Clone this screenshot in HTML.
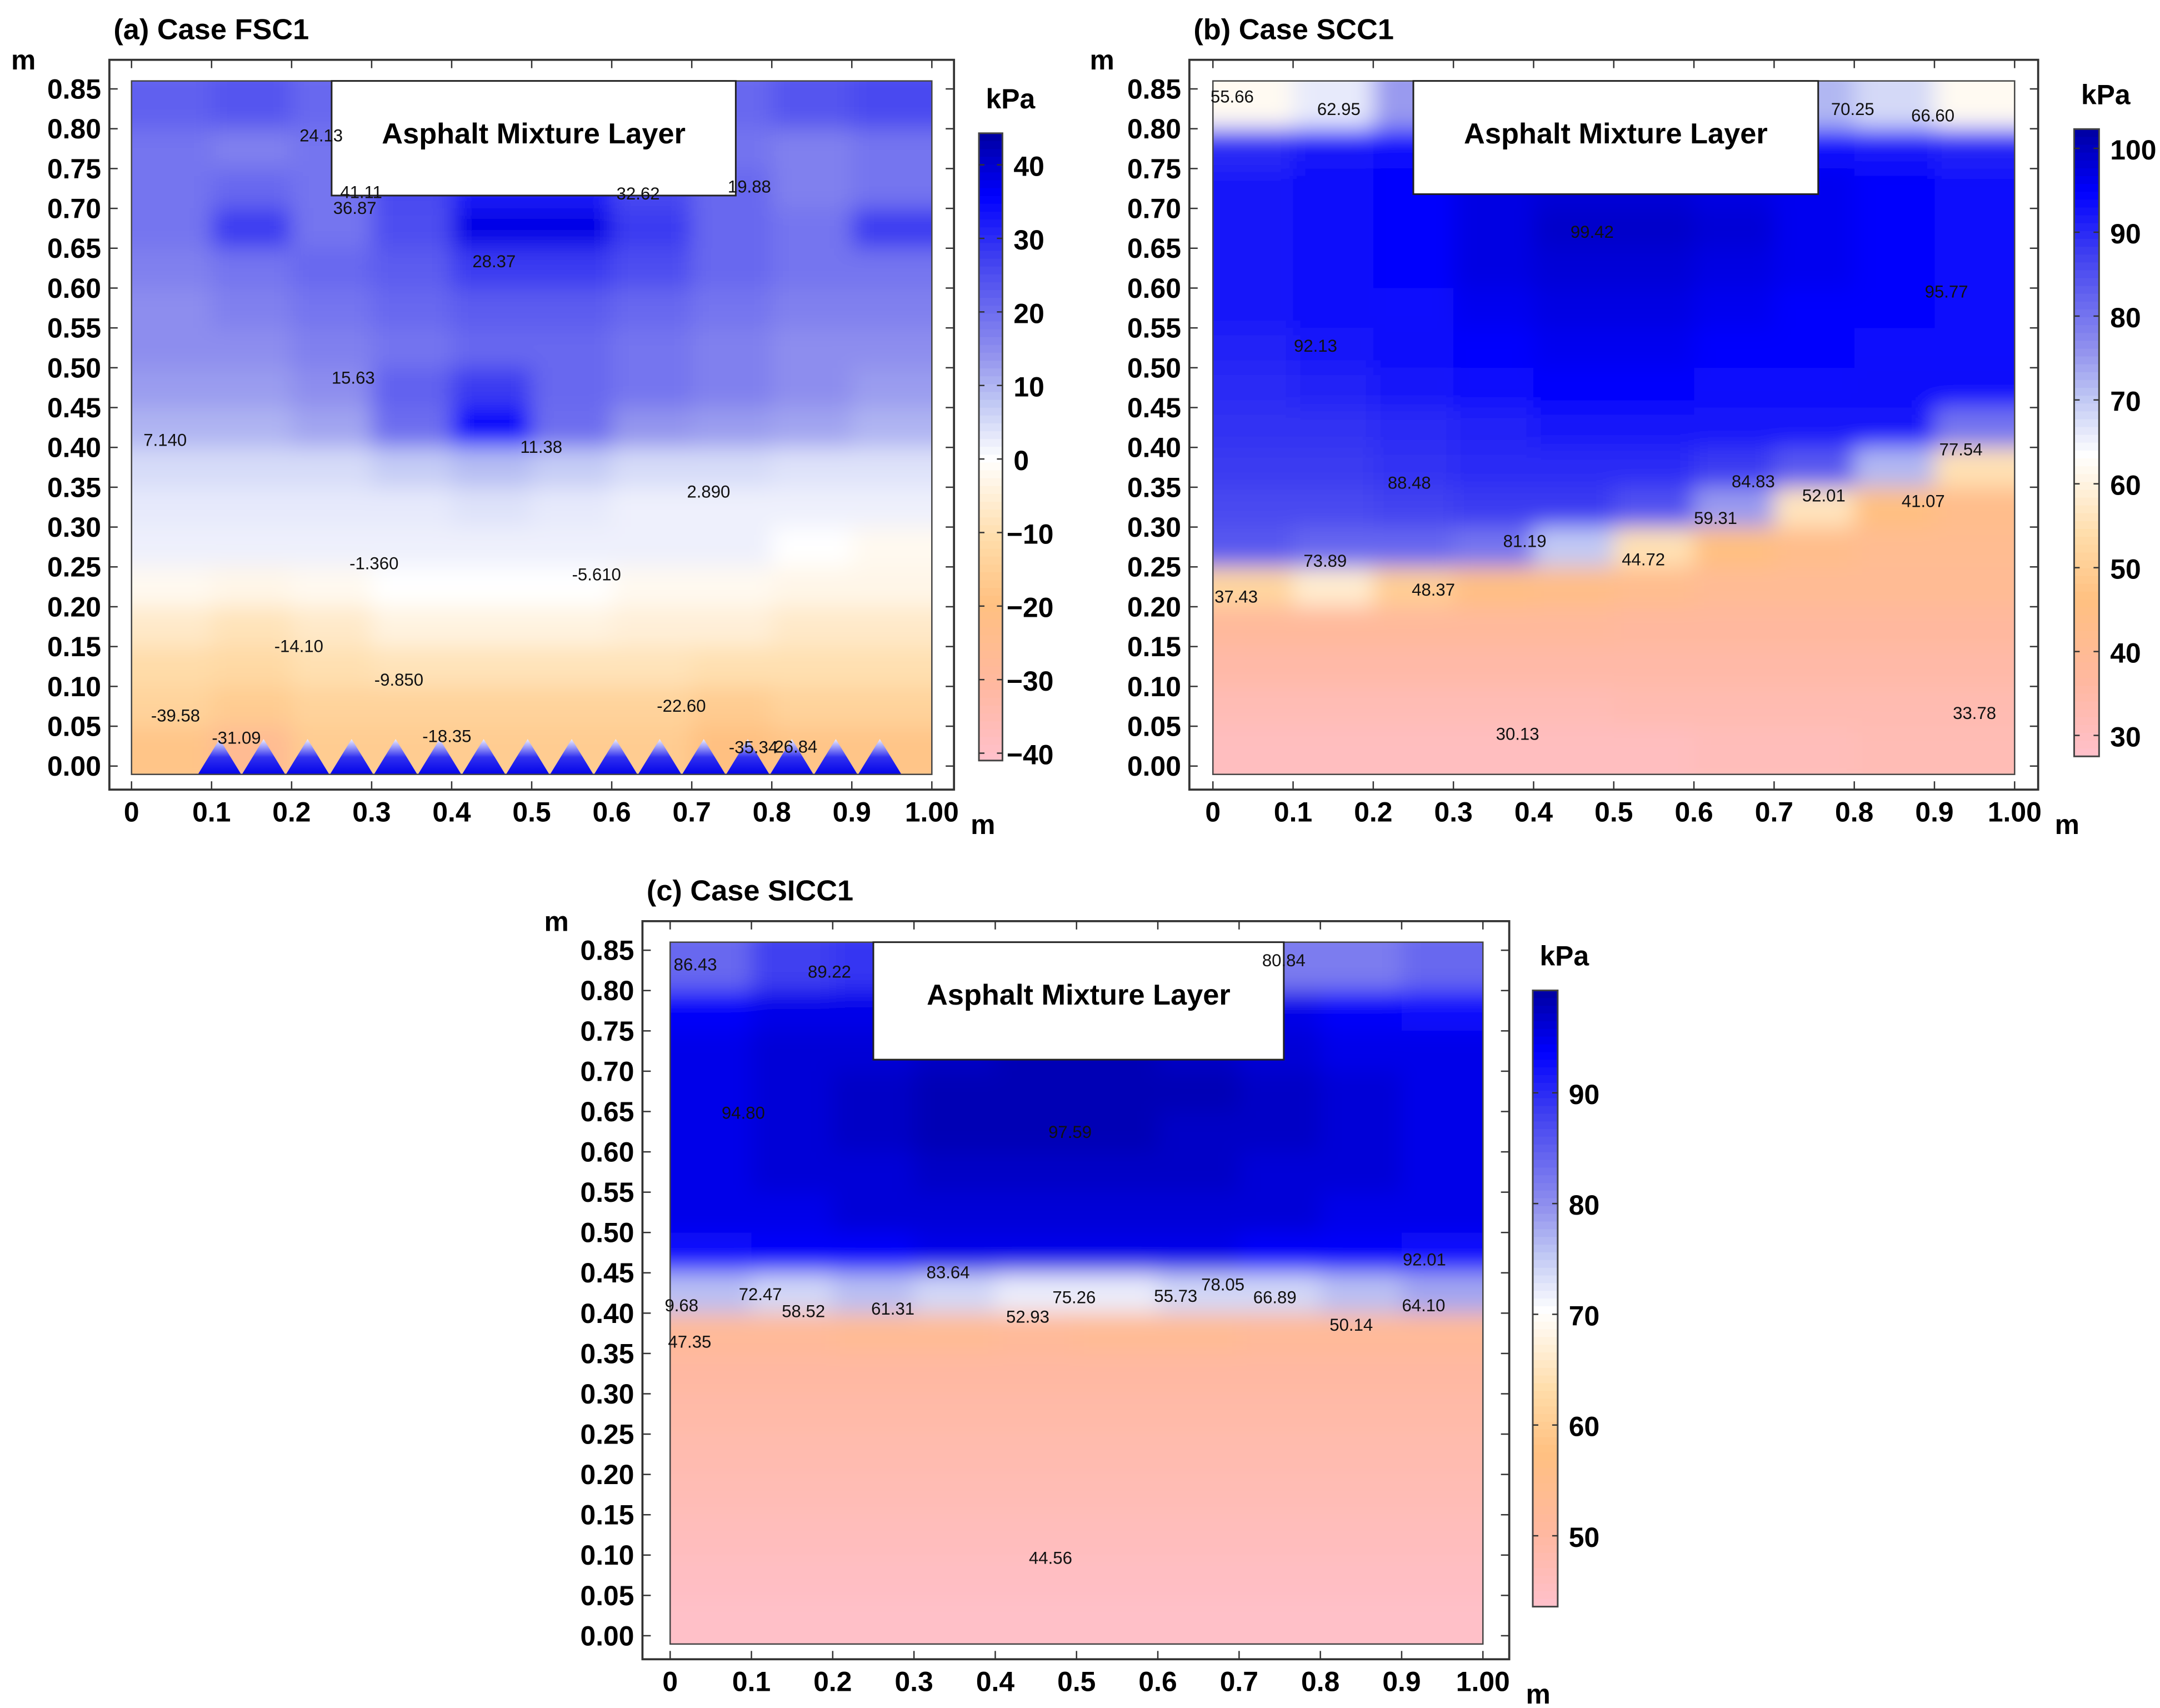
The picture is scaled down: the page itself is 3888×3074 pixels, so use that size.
<!DOCTYPE html>
<html><head><meta charset="utf-8"><style>
html,body{margin:0;padding:0;background:#fff;}
svg{display:block;}
text{font-family:"Liberation Sans",sans-serif;}
.tk{font-weight:bold;font-size:20px;fill:#000;}
.tt{font-weight:bold;font-size:21px;fill:#000;}
.lb{font-size:12.5px;fill:#111;}
</style></head><body>
<svg id="fig" width="3888" height="3074" viewBox="0 0 1560 1233" xmlns="http://www.w3.org/2000/svg">
<defs>
<filter id="blur" x="-5%" y="-5%" width="110%" height="110%"><feGaussianBlur stdDeviation="8" edgeMode="duplicate"/></filter>
<linearGradient id="tri" x1="0" y1="1" x2="0" y2="0"><stop offset="0" stop-color="#0000e8"/><stop offset="0.5" stop-color="#3030f0"/><stop offset="1" stop-color="#f0f0ff"/></linearGradient>
</defs>
</svg>
<script>
// ---------- DATA ----------
const rowsY = [0.825,0.775,0.725,0.675,0.625,0.575,0.525,0.475,0.425,0.375,0.325,0.275,0.225,0.175,0.125,0.075,0.025];
const colsX = [0.05,0.15,0.25,0.35,0.45,0.55,0.65,0.75,0.85,0.95];
const xTicks = [0,0.1,0.2,0.3,0.4,0.5,0.6,0.7,0.8,0.9,1.0];
const xTickLabels = ["0","0.1","0.2","0.3","0.4","0.5","0.6","0.7","0.8","0.9","1.00"];
const yTicks = [0.85,0.80,0.75,0.70,0.65,0.60,0.55,0.50,0.45,0.40,0.35,0.30,0.25,0.20,0.15,0.10,0.05,0.00];
const yTickLabels = ["0.85","0.80","0.75","0.70","0.65","0.60","0.55","0.50","0.45","0.40","0.35","0.30","0.25","0.20","0.15","0.10","0.05","0.00"];

const valuesA = [
[22,24,21,19,19,19,19,21,24,26],
[19,17,19,21,21,21,21,19,17,19],
[19,21,19,26,32,32,26,21,17,19],
[19,28,19,25,38,38,28,21,19,28],
[17,19,21,23,28,28,25,21,19,19],
[15,17,19,21,23,23,21,19,17,17],
[15,15,17,19,21,21,19,17,15,15],
[13,13,15,22,28,21,19,17,15,13],
[10,10,12,20,36,20,14,13,12,10],
[5,5,5,7,9,7,5,5,4,4],
[3,3,3,3,4,3,2,2,2,2],
[2,2,2,2,2,2,2,2,0,-2],
[-2,-3,-2,0,0,0,-2,-2,-3,-3],
[-7,-9,-7,-4,-4,-4,-5,-5,-7,-7],
[-11,-12,-10,-9,-9,-9,-9,-10,-10,-10],
[-14,-16,-14,-14,-14,-14,-14,-16,-14,-14],
[-18,-26,-16,-16,-16,-16,-16,-20,-18,-18]];
const valuesB = [
[62,66,75,85,95,95,95,72,68,62],
[90,92,94,95,96,96,96,94,92,91],
[92,93,95,97,98,98,97,96,95,94],
[92,93,95,97,99,99,98,96,95,94],
[92,93,95,97,98,98,97,96,95,94],
[92,93,94,96,97,97,96,95,95,94],
[91,92,93,95,96,96,95,95,94,94],
[90,91,92,94,95,95,94,94,93,93],
[89,89,90,91,92,92,92,92,92,80],
[88,88,89,90,90,90,88,84,72,55],
[86,86,87,88,88,85,75,56,46,43],
[84,82,82,80,70,55,46,43,41,41],
[52,58,50,45,44,42,40,40,40,40],
[38,38,38,38,38,37,37,37,37,37],
[35,35,35,35,35,35,35,35,35,35],
[32,32,32,32,32,33,33,33,33,33],
[30,30,30,30,30,30,31,31,32,32]];
const valuesC = [
[84,88,89,90,95,95,90,82,82,84],
[94,95,95,96,97,97,96,95,94,93],
[95,96,96,97,98,98,97,96,95,95],
[95,96,97,98,98,98,98,97,96,95],
[95,96,97,98,98,98,97,97,96,95],
[95,96,96,97,97,97,97,96,96,95],
[95,95,96,96,96,96,96,96,95,95],
[93,94,94,95,95,95,95,94,94,93],
[76,74,76,74,72,72,74,74,76,78],
[52,52,53,53,52,53,53,52,52,52],
[50,50,50,50,50,50,50,50,50,50],
[49,49,49,49,49,49,49,49,49,49],
[48,48,48,48,48,48,48,48,48,48],
[47,47,47,47,47,47,47,47,47,47],
[46,46,46,46,46,46,46,46,46,46],
[45,45,45,45,45,45,45,45,45,45],
[44,44,44,44,44,44,44,44,44,44]];

const cbTicksA = [40,30,20,10,0,-10,-20,-30,-40];
const cbLabelsA = ["40","30","20","10","0","\u221210","\u221220","\u221230","\u221240"];
const cbTicksB = [100,90,80,70,60,50,40,30];
const cbLabelsB = ["100","90","80","70","60","50","40","30"];
const cbTicksC = [90,80,70,60,50];
const cbLabelsC = ["90","80","70","60","50"];

const pointsA = [[0.237,0.791,"24.13"],[0.287,0.720,"41.11"],[0.279,0.700,"36.87"],[0.633,0.718,"32.62"],[0.772,0.727,"19.88"],[0.453,0.633,"28.37"],[0.277,0.487,"15.63"],[0.042,0.409,"7.140"],[0.512,0.400,"11.38"],[0.721,0.344,"2.890"],[0.303,0.254,"-1.360"],[0.581,0.240,"-5.610"],[0.209,0.150,"-14.10"],[0.334,0.108,"-9.850"],[0.687,0.075,"-22.60"],[0.055,0.063,"-39.58"],[0.131,0.035,"-31.09"],[0.394,0.037,"-18.35"],[0.777,0.023,"-35.34"],[0.830,0.024,"26.84"]];
const pointsB = [[0.024,0.840,"55.66"],[0.157,0.824,"62.95"],[0.798,0.824,"70.25"],[0.898,0.816,"66.60"],[0.473,0.670,"99.42"],[0.915,0.595,"95.77"],[0.128,0.527,"92.13"],[0.933,0.397,"77.54"],[0.245,0.355,"88.48"],[0.674,0.357,"84.83"],[0.762,0.339,"52.01"],[0.886,0.332,"41.07"],[0.627,0.311,"59.31"],[0.389,0.282,"81.19"],[0.537,0.259,"44.72"],[0.140,0.257,"73.89"],[0.275,0.221,"48.37"],[0.029,0.212,"37.43"],[0.380,0.040,"30.13"],[0.950,0.066,"33.78"]];
const pointsC = [[0.031,0.832,"86.43"],[0.196,0.823,"89.22"],[0.755,0.837,"80.84"],[0.090,0.648,"94.80"],[0.492,0.624,"97.59"],[0.342,0.450,"83.64"],[0.928,0.466,"92.01"],[0.111,0.423,"72.47"],[0.680,0.435,"78.05"],[0.014,0.409,"9.68"],[0.497,0.419,"75.26"],[0.622,0.421,"55.73"],[0.744,0.419,"66.89"],[0.164,0.402,"58.52"],[0.274,0.405,"61.31"],[0.440,0.395,"52.93"],[0.927,0.409,"64.10"],[0.838,0.385,"50.14"],[0.024,0.364,"47.35"],[0.468,0.096,"44.56"]];

const triCentersA = [0.11,0.22,0.33,0.44,0.55,0.66,0.77,0.88,0.165,0.275,0.385,0.495,0.605,0.715,0.825,0.935];

// ---------- DRAW ----------
const NS="http://www.w3.org/2000/svg";
const svg=document.getElementById('fig');
function mk(tag,attrs,parent){const e=document.createElementNS(NS,tag);for(const k in attrs)e.setAttribute(k,attrs[k]);(parent||svg).appendChild(e);return e;}
const stops=[[0,[255,192,203]],[0.12,[255,184,160]],[0.25,[255,192,128]],[0.35,[255,220,168]],[0.48,[255,255,255]],[0.57,[192,200,244]],[0.65,[144,144,238]],[0.8,[64,64,240]],[0.9,[0,0,255]],[1,[0,0,160]]];
function cmap(t){t=Math.max(0,Math.min(1,t));for(let i=1;i<stops.length;i++){if(t<=stops[i][0]){const a=stops[i-1],b=stops[i];const f=(t-a[0])/(b[0]-a[0]);const c=a[1].map((v,j)=>Math.round(v+(b[1][j]-v)*f));return `rgb(${c[0]},${c[1]},${c[2]})`;}}return 'rgb(0,0,160)';}

function panel(cfg){
  const g=mk('g',{});
  
  
  const sx=v=>cfg.x0+(cfg.x1-cfg.x0)*v;
  const sy=v=>cfg.y0+(cfg.y85-cfg.y0)*(v/0.85);
  const vn=v=>(v-cfg.vmin)/(cfg.vmax-cfg.vmin);
  const fr=mk('rect',{x:cfg.fx0,y:cfg.fy0,width:cfg.fx1-cfg.fx0,height:cfg.fy1-cfg.fy0,fill:'#fff',stroke:'#333','stroke-width':1.5},g);
  
  const cid='clip'+cfg.id;
  const cp=mk('clipPath',{id:cid},g);
  mk('rect',{x:sx(0),y:sy(0.86),width:sx(1.0)-sx(0),height:sy(0)-sy(0.86)+6},cp);
  const hc=mk('g',{'clip-path':`url(#${cid})`},g);
  const hm=mk('g',{filter:'url(#blur)'},hc);
  
  const dx=colsX[1]-colsX[0], dy=rowsY[0]-rowsY[1];
  cfg.vals.forEach((row,i)=>row.forEach((v,j)=>{
    let x=sx(colsX[j]-dx/2), w=sx(colsX[j]+dx/2)-x;
    let y=sy(rowsY[i]+dy/2), h=sy(rowsY[i]-dy/2)-y;
    if(j===0){x-=20;w+=20;} if(j===row.length-1){w+=20;}
    if(i===0){y-=20;h+=20;} if(i===cfg.vals.length-1){h+=20;}
    const r=mk('rect',{x:x,y:y,width:w+0.5,height:h+0.5,fill:cmap(vn(v))},hm);
    
    
  }));
  if(cfg.tri){
    const hw=0.028, th=0.034;
    cfg.tri.forEach(c=>{
      const p=mk('polygon',{points:`${sx(c-hw)},${sy(-0.012)} ${sx(c)},${sy(th)} ${sx(c+hw)},${sy(-0.012)}`,fill:'url(#tri)'},hc);
      
      
    });
  }
  const hb=mk('rect',{x:sx(0),y:sy(0.86),width:sx(1.0)-sx(0),height:sy(0)-sy(0.86)+6,fill:'none',stroke:'#444','stroke-width':1},g);
  
  const bx=mk('rect',{x:sx(0.25),y:sy(0.86),width:sx(0.755)-sx(0.25),height:cfg.boxBottom-sy(0.86),fill:'#fff',stroke:'#222','stroke-width':1.2},g);
  
  const bt=mk('text',{x:(sx(0.25)+sx(0.755))/2,y:sy(0.86)+45,'text-anchor':'middle',class:'tt'},g);
  bt.textContent='Asphalt Mixture Layer';
  
  xTicks.forEach((v,i)=>{
    mk('line',{x1:sx(v),x2:sx(v),y1:cfg.fy1,y2:cfg.fy1-6,stroke:'#333'},g);
    mk('line',{x1:sx(v),x2:sx(v),y1:cfg.fy0,y2:cfg.fy0+6,stroke:'#333'},g);
    const t=mk('text',{x:sx(v),y:cfg.fy1+23,'text-anchor':'middle',class:'tk'},g);
    t.textContent=xTickLabels[i];
    
  });
  yTicks.forEach((v,i)=>{
    mk('line',{x1:cfg.fx0,x2:cfg.fx0+6,y1:sy(v),y2:sy(v),stroke:'#333'},g);
    mk('line',{x1:cfg.fx1,x2:cfg.fx1-6,y1:sy(v),y2:sy(v),stroke:'#333'},g);
    const t=mk('text',{x:cfg.fx0-6,y:sy(v)+7,'text-anchor':'end',class:'tk'},g);
    t.textContent=yTickLabels[i];
    
  });
  const ym=mk('text',{x:cfg.ymx,y:cfg.fy0+7,class:'tk'},g);ym.textContent='m';
  
  const xm=mk('text',{x:cfg.fx1+12,y:cfg.fy1+32,class:'tk'},g);xm.textContent='m';
  
  const ti=mk('text',{x:cfg.fx0+3,y:cfg.fy0-15,class:'tt'},g);ti.textContent=cfg.title;
  
  cfg.pts.forEach(p=>{
    const t=mk('text',{x:sx(p[0]),y:sy(p[1])+4,'text-anchor':'middle',class:'lb'},g);
    t.textContent=p[2];
    
  });
  const cb=cfg.cb;
  const cy=v=>cb.y0+(cb.vTop-v)/(cb.vTop-cb.vBot)*(cb.y1-cb.y0);
  const cg=mk('g',{},g);
  
  const N=80;
  for(let k=0;k<N;k++){
    const y=cb.y0+(cb.y1-cb.y0)*k/N;
    mk('rect',{x:cb.x0,y:y,width:cb.x1-cb.x0,height:(cb.y1-cb.y0)/N+0.6,fill:cmap(1-(k+0.5)/N)},cg);
  }
  mk('rect',{x:cb.x0,y:cb.y0,width:cb.x1-cb.x0,height:cb.y1-cb.y0,fill:'none',stroke:'#444','stroke-width':1.2},cg);
  cb.ticks.forEach((v,i)=>{
    mk('line',{x1:cb.x0,x2:cb.x0+4,y1:cy(v),y2:cy(v),stroke:'#333'},cg);
    mk('line',{x1:cb.x1,x2:cb.x1-4,y1:cy(v),y2:cy(v),stroke:'#333'},cg);
    const neg=cb.labels[i].charAt(0)==='\u2212';
    const t=mk('text',{x:cb.x1+(neg?3:8),y:cy(v)+8,'text-anchor':'start',class:'tk'},cg);
    t.textContent=cb.labels[i];
    
  });
  const kp=mk('text',{x:cb.x0+5,y:cb.y0-18,'text-anchor':'start',class:'tk'},cg);kp.textContent='kPa';
  
}

panel({id:'a',name:'panel-a-fsc1',title:'(a) Case FSC1',vals:valuesA,pts:pointsA,tri:triCentersA,
  x0:95,x1:673,y0:553,y85:64,fx0:79,fx1:689,fy0:43,fy1:570,boxBottom:141,ymx:8,vmin:-41,vmax:44.3,
  cb:{x0:707,x1:724,y0:96,y1:549,vTop:44.3,vBot:-41,ticks:cbTicksA,labels:cbLabelsA}});
panel({id:'b',name:'panel-b-scc1',title:'(b) Case SCC1',vals:valuesB,pts:pointsB,
  x0:876,x1:1455,y0:553,y85:64,fx0:859,fx1:1472,fy0:43,fy1:570,boxBottom:140,ymx:787,vmin:27.5,vmax:102.3,
  cb:{x0:1498,x1:1516,y0:93,y1:546,vTop:102.3,vBot:27.5,ticks:cbTicksB,labels:cbLabelsB}});
panel({id:'c',name:'panel-c-sicc1',title:'(c) Case SICC1',vals:valuesC,pts:pointsC,
  x0:484,x1:1071,y0:1181,y85:686,fx0:464,fx1:1090,fy0:665,fy1:1198,boxBottom:765,ymx:393,vmin:43.6,vmax:99.25,
  cb:{x0:1107,x1:1125,y0:715,y1:1160,vTop:99.25,vBot:43.6,ticks:cbTicksC,labels:cbLabelsC}});
</script>
</body></html>
